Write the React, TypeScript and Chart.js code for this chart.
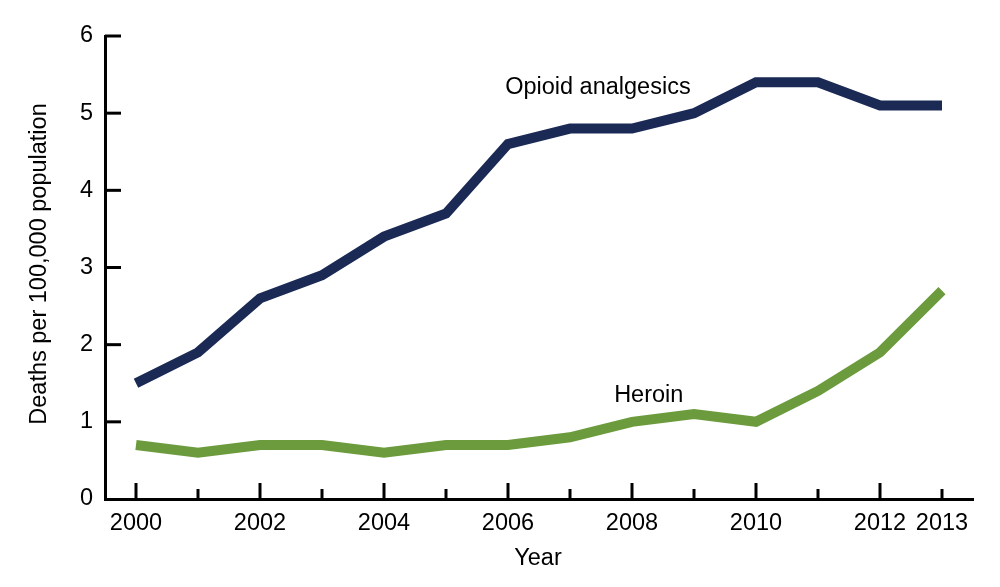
import React, { useEffect, useRef } from "react";
import { Chart, registerables } from "chart.js";

Chart.register(...registerables);

const years = [2000, 2001, 2002, 2003, 2004, 2005, 2006, 2007, 2008, 2009, 2010, 2011, 2012, 2013];
const opioidAnalgesics = [1.5, 1.9, 2.6, 2.9, 3.4, 3.7, 4.6, 4.8, 4.8, 5.0, 5.4, 5.4, 5.1, 5.1];
const heroin = [0.7, 0.6, 0.7, 0.7, 0.6, 0.7, 0.7, 0.8, 1.0, 1.1, 1.0, 1.4, 1.9, 2.7];
const labeledYears = [2000, 2002, 2004, 2006, 2008, 2010, 2012, 2013];
const yTicks = [0, 1, 2, 3, 4, 5, 6];

const FONT = "'Liberation Sans', Arial, sans-serif";

const decorPlugin = {
  id: "decor",
  afterDraw(chart: any) {
    const { ctx, scales } = chart;
    const x = scales.x;
    const y = scales.y;
    ctx.save();
    ctx.strokeStyle = "#000";
    ctx.lineWidth = 3;
    // inward ticks on x
    years.forEach((yr) => {
      const px = x.getPixelForValue(yr);
      const len = yr % 2 === 0 ? 16 : 10;
      ctx.beginPath();
      ctx.moveTo(px, y.bottom);
      ctx.lineTo(px, y.bottom - len);
      ctx.stroke();
    });
    // inward ticks on y
    yTicks.forEach((v) => {
      if (v === 0) return;
      const py = y.getPixelForValue(v);
      ctx.beginPath();
      ctx.moveTo(x.left, py);
      ctx.lineTo(x.left + 16, py);
      ctx.stroke();
    });
    // axis titles
    ctx.fillStyle = "#000";
    ctx.font = `23.5px ${FONT}`;
    ctx.textAlign = "center";
    ctx.textBaseline = "middle";
    ctx.fillText("Year", 538, 559);
    ctx.save();
    ctx.translate(40, 264);
    ctx.rotate(-Math.PI / 2);
    ctx.fillText("Deaths per 100,000 population", 0, 0);
    ctx.restore();
    // series labels
    ctx.font = `23.5px ${FONT}`;
    ctx.fillText("Opioid analgesics", x.getPixelForValue(2007.45), y.getPixelForValue(5.33));
    ctx.fillText("Heroin", x.getPixelForValue(2008.27), y.getPixelForValue(1.335));
    ctx.restore();
  },
};

export default function App() {
  const ref = useRef<HTMLCanvasElement>(null);
  useEffect(() => {
    document.body.style.margin = "0";
    const chart = new Chart(ref.current!, {
      type: "line",
      data: {
        datasets: [
          {
            label: "Opioid analgesics",
            data: years.map((yr, i) => ({ x: yr, y: opioidAnalgesics[i] })),
            borderColor: "#1b2a55",
            borderWidth: 10,
            pointRadius: 0,
            tension: 0,
            borderJoinStyle: "miter",
          },
          {
            label: "Heroin",
            data: years.map((yr, i) => ({ x: yr, y: heroin[i] })),
            borderColor: "#6b9b3c",
            borderWidth: 10,
            pointRadius: 0,
            tension: 0,
            borderJoinStyle: "miter",
          },
        ],
      },
      options: {
        animation: false,
        responsive: false,
        maintainAspectRatio: false,
        layout: { padding: { top: 36, right: 27, left: 0, bottom: 0 } },
        plugins: { legend: { display: false }, tooltip: { enabled: false } },
        scales: {
          x: {
            type: "linear",
            min: 1999.5,
            max: 2013.5,
            afterBuildTicks: (scale: any) => {
              scale.ticks = labeledYears.map((v) => ({ value: v }));
            },
            afterFit: (scale: any) => {
              scale.height = 88;
            },
            grid: { display: false, drawTicks: false },
            border: { display: true, color: "#000", width: 3 },
            ticks: {
              color: "#000",
              font: { family: FONT, size: 23.5 },
              padding: 10,
              maxRotation: 0,
              autoSkip: false,
              callback: (v: any) => String(v),
            },
          },
          y: {
            min: 0,
            max: 6,
            afterBuildTicks: (scale: any) => {
              scale.ticks = yTicks.map((v) => ({ value: v }));
            },
            afterFit: (scale: any) => {
              scale.width = 105;
            },
            grid: { display: false, drawTicks: false },
            border: { display: true, color: "#000", width: 3 },
            ticks: {
              color: "#000",
              font: { family: FONT, size: 23.5 },
              padding: 12,
            },
          },
        },
      },
      plugins: [decorPlugin],
    } as any);
    return () => chart.destroy();
  }, []);
  return <canvas ref={ref} width={1000} height={587} style={{ display: "block" }} />;
}
